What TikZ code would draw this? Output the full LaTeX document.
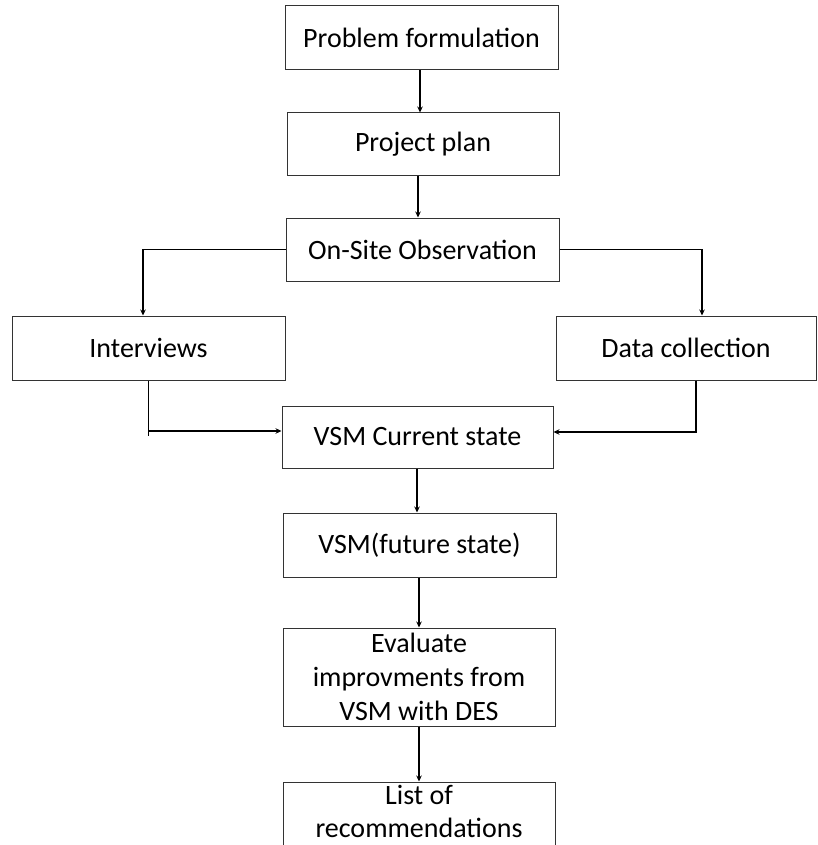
\documentclass[tikz,border=0pt]{standalone}
\usepackage{fontspec}
\setmainfont{Carlito}
\usetikzlibrary{arrows.meta}
\begin{document}
\begin{tikzpicture}[x=1pt,y=-1pt,
  box/.style={draw=black!80, line width=1pt, rectangle, inner sep=0pt, align=center,
    font=\fontsize{28pt}{34pt}\selectfont},
  txt/.style={inner sep=0pt, align=center, font=\fontsize{28pt}{33pt}\selectfont},
  arr/.style={draw=black, line width=1.4pt, -{Stealth[length=6pt,width=5.5pt]}},
  seg/.style={draw=black, line width=1.4pt}]
\useasboundingbox (0,0) rectangle (817,845);
\clip (0,0) rectangle (817,845);
\node[box, minimum width=273pt, minimum height=64pt] (pf) at (421.5,38) {Problem formulation};
\node[box, minimum width=272pt, minimum height=63pt] (pp) at (423,144.5) {Project plan};
\node[box, minimum width=273pt, minimum height=63pt] (os) at (422.5,249.5) {On-Site Observation};
\node[box, minimum width=273pt, minimum height=64pt] (iv) at (148.5,348) {Interviews};
\node[box, minimum width=260pt, minimum height=64pt] (dc) at (686,348) {Data collection};
\node[box, minimum width=271pt, minimum height=62pt] (vc) at (417.5,437) {VSM Current state};
\node[box, minimum width=273pt, minimum height=64pt] (vf) at (419.5,545) {VSM(future state)};
\node[box, minimum width=272pt, minimum height=98pt] (ev) at (419,677) {Evaluate\\improvments from\\VSM with DES};
\node[box, minimum width=272pt, minimum height=70pt] (lr) at (419,817) {};
\node[txt] (lrt) at (419,811) {List of\\recommendations};
% connectors
\draw[arr] ([xshift=-1.5pt]pf.south) -- ([xshift=-1.5pt]pf.south |- pp.north);
\draw[arr] ([xshift=-5pt]pp.south) -- ([xshift=-5pt]pp.south |- os.north);
\draw[arr] (os.west) -| ([xshift=-5.5pt]iv.north);
\draw[arr] (os.east) -| ([xshift=16pt]dc.north);
\draw[seg] (iv.south) -- ([yshift=1pt]iv.south |- vc.west);
\draw[arr] ([yshift=6pt]iv.south |- vc.west) -- ([yshift=6pt]vc.west);
\draw[arr] ([xshift=10pt]dc.south) |- ([yshift=5pt]vc.east);
\draw[arr] ([xshift=-0.5pt]vc.south) -- ([xshift=-0.5pt]vc.south |- vf.north);
\draw[arr] ([xshift=-0.5pt]vf.south) -- ([xshift=-0.5pt]vf.south |- ev.north);
\draw[arr] (ev.south) -- (ev.south |- lr.north);
\end{tikzpicture}
\end{document}
